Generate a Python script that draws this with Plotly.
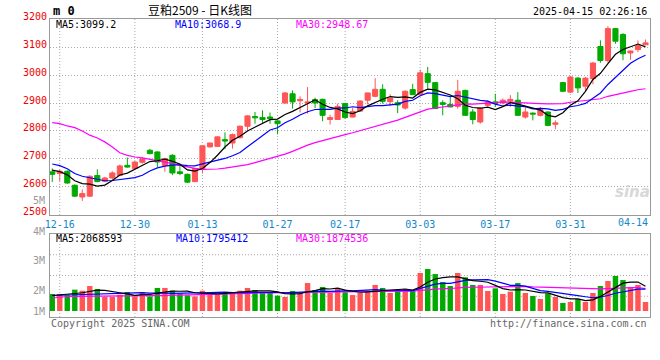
import plotly.graph_objects as go

# ---------------- data ----------------
dates = ['12-13', '12-16', '12-17', '12-18', '12-19', '12-20', '12-23', '12-24', '12-25', '12-26',
         '12-27', '12-30', '12-31', '01-02', '01-03', '01-06', '01-07', '01-08', '01-09', '01-10',
         '01-13', '01-14', '01-15', '01-16', '01-17', '01-20', '01-21', '01-22', '01-23', '01-24',
         '01-27', '02-05', '02-06', '02-07', '02-10', '02-11', '02-12', '02-13', '02-14', '02-17',
         '02-18', '02-19', '02-20', '02-21', '02-24', '02-25', '02-26', '02-27', '02-28', '03-03',
         '03-04', '03-05', '03-06', '03-07', '03-10', '03-11', '03-12', '03-13', '03-14', '03-17',
         '03-18', '03-19', '03-20', '03-21', '03-24', '03-25', '03-26', '03-27', '03-28', '03-31',
         '04-01', '04-02', '04-03', '04-07', '04-08', '04-09', '04-10', '04-11', '04-14', '04-15']

opens = [2654, 2648, 2656, 2606, 2564, 2567, 2641, 2620, 2632, 2641,
         2677, 2666, 2688, 2731, 2725, 2677, 2713, 2654, 2645, 2619,
         2666, 2743, 2745, 2769, 2757, 2776, 2817, 2852, 2848, 2850,
         2836, 2900, 2933, 2908, 2900, 2912, 2913, 2841, 2841, 2898,
         2850, 2871, 2910, 2924, 2949, 2905, 2901, 2882, 2948, 2930,
         3005, 2973, 2901, 2895, 2888, 2945, 2868, 2832, 2892, 2904,
         2900, 2907, 2910, 2850, 2864, 2856, 2868, 2824, 2973, 2939,
         2989, 2960, 2987, 3102, 3052, 3166, 3145, 3079, 3091, 3108]

highs = [2666, 2662, 2659, 2609, 2591, 2642, 2663, 2636, 2656, 2680,
         2705, 2692, 2705, 2736, 2727, 2704, 2717, 2674, 2648, 2668,
         2749, 2758, 2781, 2795, 2791, 2820, 2856, 2868, 2874, 2866,
         2838, 2939, 2945, 2924, 2957, 2919, 2916, 2858, 2898, 2901,
         2882, 2910, 2937, 2989, 2967, 2931, 2910, 2945, 2969, 3019,
         3029, 2975, 2910, 2921, 2983, 2948, 2878, 2886, 2910, 2933,
         2916, 2928, 2939, 2886, 2866, 2886, 2870, 2838, 2975, 2997,
         2993, 2993, 3047, 3124, 3175, 3167, 3150, 3088, 3124, 3127]

lows = [2618, 2621, 2611, 2564, 2550, 2564, 2617, 2617, 2627, 2638,
        2669, 2663, 2683, 2717, 2671, 2654, 2642, 2642, 2614, 2617,
        2648, 2741, 2743, 2735, 2737, 2773, 2800, 2826, 2829, 2826,
        2788, 2898, 2880, 2866, 2862, 2882, 2835, 2823, 2840, 2844,
        2848, 2870, 2895, 2921, 2898, 2889, 2864, 2876, 2929, 2927,
        2951, 2880, 2856, 2885, 2880, 2856, 2824, 2826, 2888, 2886,
        2895, 2886, 2855, 2844, 2838, 2852, 2817, 2806, 2939, 2936,
        2936, 2945, 2967, 3044, 3044, 3112, 3053, 3055, 3082, 3107]

closes = [2645, 2656, 2614, 2567, 2576, 2638, 2619, 2632, 2650, 2675,
          2671, 2689, 2700, 2719, 2689, 2701, 2650, 2648, 2617, 2666,
          2747, 2757, 2779, 2764, 2787, 2817, 2854, 2847, 2841, 2844,
          2826, 2936, 2904, 2913, 2904, 2900, 2856, 2848, 2888, 2848,
          2870, 2907, 2936, 2949, 2906, 2918, 2893, 2942, 2930, 3008,
          2974, 2880, 2895, 2886, 2942, 2856, 2841, 2882, 2904, 2898,
          2910, 2913, 2856, 2868, 2860, 2876, 2820, 2829, 2942, 2993,
          2954, 2989, 3043, 3052, 3166, 3121, 3076, 3086, 3105, 3115]

ma5 = [2660, 2655, 2643, 2622, 2611.6, 2610.2, 2602.8, 2606.4, 2623.0, 2642.8,
       2649.4, 2663.4, 2677.0, 2690.8, 2693.6, 2699.6, 2691.8, 2681.4, 2661.0, 2656.4,
       2665.6, 2687.0, 2713.2, 2742.6, 2766.8, 2780.8, 2800.2, 2813.8, 2829.2, 2840.6,
       2842.4, 2858.8, 2870.2, 2884.6, 2896.6, 2911.4, 2895.4, 2884.2, 2879.2, 2868.0,
       2862.0, 2872.2, 2889.8, 2902.0, 2913.6, 2923.2, 2920.4, 2921.6, 2917.8, 2938.2,
       2949.4, 2946.8, 2937.4, 2928.6, 2915.4, 2891.8, 2884.0, 2881.4, 2885.0, 2876.2,
       2887.0, 2901.4, 2896.2, 2889.0, 2881.4, 2874.6, 2856.0, 2850.6, 2865.4, 2892.0,
       2907.6, 2941.4, 2984.2, 3006.2, 3040.8, 3074.2, 3091.6, 3100.2, 3110.8, 3100.6]

ma10 = [2682, 2676, 2665, 2648, 2638, 2632, 2626, 2622, 2623, 2627.2,
        2629.8, 2633.1, 2641.7, 2656.9, 2668.2, 2674.5, 2677.6, 2679.2, 2675.9, 2675.0,
        2682.6, 2689.4, 2697.3, 2701.8, 2711.6, 2723.2, 2743.6, 2763.5, 2785.9, 2803.7,
        2811.6, 2829.5, 2842.0, 2856.9, 2868.6, 2876.9, 2877.1, 2877.2, 2881.9, 2882.3,
        2886.7, 2883.8, 2887.0, 2890.6, 2890.8, 2892.6, 2896.3, 2905.7, 2909.9, 2925.9,
        2936.3, 2933.6, 2929.5, 2923.2, 2926.8, 2920.6, 2915.4, 2909.4, 2906.8, 2895.8,
        2889.4, 2892.7, 2888.8, 2887.0, 2878.8, 2880.8, 2878.7, 2873.4, 2877.2, 2886.7,
        2891.1, 2898.7, 2917.4, 2935.8, 2966.4, 2990.9, 3016.5, 3042.2, 3058.5, 3070.7]

ma30 = [2830, 2826, 2818, 2812, 2800, 2785, 2775, 2761, 2743, 2722,
        2713, 2707, 2704, 2699, 2695, 2689, 2683, 2677, 2671, 2666,
        2663, 2663, 2664, 2667, 2671, 2676, 2680, 2687, 2694, 2702.0,
        2708.0, 2717.3, 2727.0, 2738.5, 2749.5, 2758.2, 2766.1, 2773.3, 2781.2, 2787.0,
        2793.6, 2800.9, 2808.8, 2816.4, 2823.7, 2830.9, 2839.0, 2848.8, 2859.2, 2870.6,
        2878.2, 2882.3, 2886.2, 2890.2, 2895.4, 2896.7, 2896.3, 2897.4, 2899.5, 2901.3,
        2904.1, 2903.4, 2901.8, 2900.3, 2898.8, 2898.0, 2896.8, 2896.2, 2898.0, 2902.8,
        2905.6, 2908.3, 2911.9, 2915.3, 2924.0, 2930.8, 2936.9, 2941.7, 2947.5, 2951.1]

# volume in millions
volume_m = [1.42, 1.42, 1.31, 1.78, 1.69, 2.08, 1.83, 1.17, 1.17, 1.36,
            1.58, 1.22, 1.50, 1.22, 1.92, 1.92, 1.69, 1.47, 1.31, 1.22,
            1.69, 1.58, 1.36, 1.50, 1.50, 1.69, 1.92, 1.75, 1.50, 1.50,
            1.28, 1.17, 1.67, 1.58, 2.33, 1.75, 2.00, 1.50, 1.92, 1.56,
            1.33, 1.50, 1.69, 2.17, 1.92, 1.50, 1.75, 1.83, 1.75, 3.17,
            3.50, 3.08, 2.42, 2.08, 3.17, 2.81, 2.17, 2.17, 1.67, 1.89,
            1.42, 1.61, 2.33, 1.50, 1.25, 1.00, 1.47, 1.17, 0.67, 0.75,
            1.00, 0.75, 1.50, 2.08, 2.50, 2.92, 2.58, 1.92, 2.17, 0.75]

vol_ma5_m = [1.292, 1.333, 1.375, 1.458, 1.522, 1.656, 1.739, 1.711, 1.589, 1.522,
             1.422, 1.300, 1.367, 1.378, 1.489, 1.556, 1.650, 1.644, 1.661, 1.522,
             1.478, 1.456, 1.433, 1.472, 1.528, 1.528, 1.594, 1.672, 1.672, 1.672,
             1.589, 1.439, 1.422, 1.439, 1.606, 1.700, 1.867, 1.833, 1.900, 1.744,
             1.661, 1.561, 1.600, 1.650, 1.722, 1.756, 1.806, 1.833, 1.750, 2.000,
             2.400, 2.667, 2.783, 2.850, 2.850, 2.711, 2.528, 2.478, 2.394, 2.139,
             1.861, 1.750, 1.783, 1.750, 1.622, 1.539, 1.511, 1.278, 1.111, 1.011,
             1.011, 0.867, 0.933, 1.217, 1.567, 1.950, 2.317, 2.400, 2.417, 2.067]

vol_ma10_m = [1.292, 1.317, 1.333, 1.358, 1.383, 1.417, 1.442, 1.467, 1.500, 1.522,
              1.539, 1.519, 1.539, 1.483, 1.506, 1.489, 1.475, 1.506, 1.519, 1.506,
              1.517, 1.553, 1.539, 1.567, 1.525, 1.503, 1.525, 1.553, 1.572, 1.600,
              1.558, 1.517, 1.548, 1.556, 1.639, 1.644, 1.653, 1.628, 1.669, 1.675,
              1.681, 1.714, 1.717, 1.775, 1.733, 1.708, 1.683, 1.717, 1.700, 1.861,
              2.078, 2.236, 2.308, 2.300, 2.425, 2.556, 2.597, 2.631, 2.622, 2.494,
              2.286, 2.139, 2.131, 2.072, 1.881, 1.700, 1.631, 1.531, 1.431, 1.317,
              1.275, 1.189, 1.106, 1.164, 1.289, 1.481, 1.592, 1.667, 1.817, 1.817]

vol_ma30_m = [1.083, 1.167, 1.208, 1.217, 1.217, 1.225, 1.225, 1.233, 1.233, 1.242,
              1.250, 1.258, 1.267, 1.275, 1.283, 1.292, 1.300, 1.308, 1.317, 1.325,
              1.342, 1.358, 1.375, 1.400, 1.417, 1.442, 1.467, 1.492, 1.517, 1.543,
              1.538, 1.530, 1.542, 1.535, 1.557, 1.545, 1.551, 1.562, 1.587, 1.593,
              1.585, 1.594, 1.601, 1.633, 1.633, 1.618, 1.620, 1.633, 1.648, 1.712,
              1.773, 1.823, 1.858, 1.877, 1.933, 1.969, 1.978, 1.992, 1.998, 2.010,
              2.015, 2.030, 2.052, 2.049, 2.013, 1.988, 1.970, 1.959, 1.918, 1.891,
              1.880, 1.855, 1.848, 1.845, 1.865, 1.912, 1.940, 1.943, 1.957, 1.876]

tick_dates = ['12-16', '12-30', '01-13', '01-27', '02-17', '03-03', '03-17', '03-31']
last_tick_label = '04-14'
grid_dates = ['12-16', '12-30', '01-13', '01-27', '02-17', '03-03', '03-17', '03-31']
price_ticks = [2500, 2600, 2700, 2800, 2900, 3000, 3100, 3200]
price_tick_text = ['2500', '2600', '2700', '2800', '2900', '3000', '3100', '3200']
vol_axis_labels = ['5M', '4M', '3M', '2M', '1M']
price_legend = ['MA5:3099.2', 'MA10:3068.9', 'MA30:2948.67']
vol_legend = ['MA5:2068593', 'MA10:1795412', 'MA30:1874536']
title_text = '豆粕2509 - 日K线图'
symbol_text = 'm 0'
time_text = '2025-04-15 02:26:16'
copyright_text = 'Copyright 2025 SINA.COM'
url_text = 'http://finance.sina.com.cn'

# ---------------- styling ----------------
RED = '#ff5555'
GREEN = '#00aa00'
MONO = 'DejaVu Sans Mono'
CJK = 'Noto Sans CJK SC'
GRID = '#aaaaaa'
FRAME = '#999999'
XTICK = '#1188cc'

# plot area in pixels: x 50..650, y 19..317
PL, PR, PT, PB = 50, 650, 19, 317


def fx(px):
    return (px - PL) / (PR - PL)


def fy(py):
    return (PB - py) / (PB - PT)


price_dom = [fy(215), 1.0]
vol_dom = [0.0, fy(234)]

colors = [RED if c >= o else GREEN for o, c in zip(opens, closes)]
idx = list(range(len(dates)))

fig = go.Figure()

# wicks (one line segment per candle, split by colour)
for col in (RED, GREEN):
    xs, ys = [], []
    for i, h, l, c in zip(idx, highs, lows, colors):
        if c == col:
            xs += [i, i, None]
            ys += [l, h, None]
    fig.add_trace(go.Scatter(x=xs, y=ys, mode='lines', line=dict(color=col, width=1),
                             hoverinfo='skip', showlegend=False, xaxis='x', yaxis='y'))

# bodies
fig.add_trace(go.Bar(
    x=idx,
    y=[abs(c - o) for o, c in zip(opens, closes)],
    base=[min(o, c) for o, c in zip(opens, closes)],
    width=0.68,
    marker=dict(color=colors, line=dict(color=colors, width=1)),
    hoverinfo='skip', showlegend=False, xaxis='x', yaxis='y'))

# price moving averages
for series, col in ((ma30, '#ff00ff'), (ma10, '#0000ff'), (ma5, '#000000')):
    fig.add_trace(go.Scatter(x=idx, y=series, mode='lines', line=dict(color=col, width=1.2),
                             hoverinfo='skip', showlegend=False, xaxis='x', yaxis='y'))

# volume
fig.add_trace(go.Bar(x=idx, y=volume_m, width=0.72,
                     marker=dict(color=colors, line=dict(width=0)),
                     hoverinfo='skip', showlegend=False, xaxis='x2', yaxis='y2'))
for series, col in ((vol_ma30_m, '#ff00ff'), (vol_ma10_m, '#0000ff'), (vol_ma5_m, '#000000')):
    fig.add_trace(go.Scatter(x=idx, y=series, mode='lines', line=dict(color=col, width=1.2),
                             hoverinfo='skip', showlegend=False, xaxis='x2', yaxis='y2'))

# ---------------- shapes: grid ----------------
shapes = []
for d in grid_dates:
    i = dates.index(d)
    for yr in ('y domain', 'y2 domain'):
        shapes.append(dict(type='line', xref='x', yref=yr, x0=i, x1=i, y0=0, y1=1,
                           line=dict(color=GRID, width=1, dash='1px,2px'), layer='below'))
for frac in (0.25, 0.5, 0.75):
    shapes.append(dict(type='line', xref='paper', yref='y2 domain', x0=0, x1=1, y0=frac, y1=frac,
                       line=dict(color=GRID, width=1, dash='1px,2px'), layer='below'))

# ---------------- annotations ----------------
anns = []


def ann(text, px, py, color, size, family=MONO, xanchor='left'):
    anns.append(dict(text=text, x=fx(px), y=fy(py), xref='paper', yref='paper',
                     xanchor=xanchor, yanchor='middle', showarrow=False,
                     font=dict(color=color, size=size, family=family)))


ann('<b>' + symbol_text + '</b>', 51, 11, '#000000', 12)
ann(title_text, 200, 9.5, '#000000', 12, family=CJK, xanchor='center')
ann(time_text, 649, 11.5, '#000000', 10, xanchor='right')

for txt, px, col in zip(price_legend, (54, 173, 294), ('#000000', '#0000ff', '#ff00ff')):
    ann(txt, px, 24, col, 10)
for txt, px, col in zip(vol_legend, (54, 174, 294), ('#000000', '#0000ff', '#ff00ff')):
    ann(txt, px, 238.5, col, 10)

for txt, py in zip(vol_axis_labels, (200.5, 231, 260, 290, 311)):
    ann(txt, 47, py, '#999999', 10, xanchor='right')

# last date label sits flush with the right frame, as in the original
ann(last_tick_label, 650, 222, XTICK, 10, xanchor='right')

ann(copyright_text, 49, 323.5, '#666666', 10)
ann(url_text, 649, 323.5, '#666666', 10, xanchor='right')
ann('<b><i>sina</i></b>', 632, 192, '#d8d8d8', 15, family='DejaVu Sans', xanchor='center')

# ---------------- layout ----------------
fig.update_layout(
    width=660, height=360,
    margin=dict(l=PL, r=660 - PR, t=PT, b=360 - PB, pad=0),
    paper_bgcolor='white', plot_bgcolor='white',
    barmode='overlay',
    showlegend=False,
    hovermode=False,
    shapes=shapes,
    annotations=anns,
    xaxis=dict(domain=[0, 1], anchor='y', type='linear', range=[-0.3, 79.6],
               tickmode='array', tickvals=[dates.index(d) for d in tick_dates], ticktext=tick_dates,
               tickangle=0,
               tickfont=dict(color=XTICK, size=10, family=MONO),
               showgrid=False, zeroline=False, ticks='',
               showline=True, mirror=True, linecolor=FRAME, linewidth=1),
    xaxis2=dict(domain=[0, 1], anchor='y2', type='linear', matches='x',
                showticklabels=False, showgrid=False, zeroline=False, ticks='',
                showline=True, mirror=True, linecolor=FRAME, linewidth=1),
    yaxis=dict(domain=price_dom, anchor='x', range=[2499.6, 3200.4],
               tickmode='array', tickvals=price_ticks, ticktext=price_tick_text,
               tickfont=dict(color='#ee0000', size=10, family=MONO),
               ticklabelshift=-3,
               showgrid=True, gridcolor=GRID, gridwidth=1, griddash='1px,2px',
               zeroline=False, ticks='',
               showline=True, mirror=True, linecolor=FRAME, linewidth=1),
    yaxis2=dict(domain=vol_dom, anchor='x2', range=[-0.5, 6.417],
                showticklabels=False, showgrid=False, zeroline=False, ticks='',
                showline=True, mirror=True, linecolor=FRAME, linewidth=1),
)

fig.write_html('out.html', config={'displayModeBar': False, 'staticPlot': True},
               post_script="document.body.style.margin='0';")
